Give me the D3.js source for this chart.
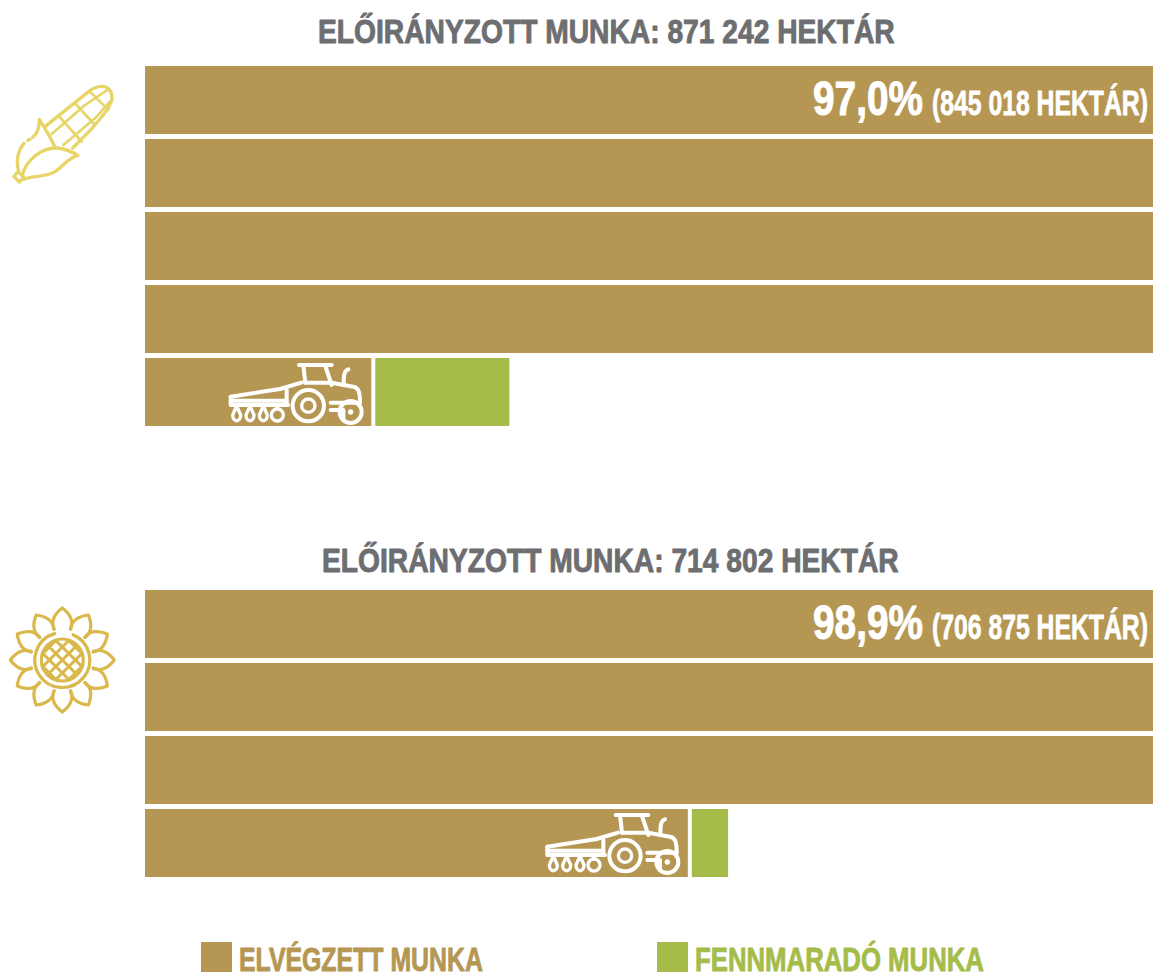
<!DOCTYPE html>
<html><head><meta charset="utf-8">
<script src="https://cdn.jsdelivr.net/npm/d3@7/dist/d3.min.js"></script>
<style>html,body{margin:0;padding:0;background:#fff;overflow:hidden}svg{display:block}
text{font-family:"Liberation Sans Narrow","Liberation Sans",sans-serif;font-weight:700}</style>
</head><body><svg id="c" width="1153" height="972"></svg>
<script>
// Data: hectares per row (each full row = 200 000 ha)
const cornDone = [200000, 200000, 200000, 200000, 44900];
const cornLeft = [26600];
const sunDone = [200000, 200000, 200000, 107700];
const sunLeft = [7200];
const titles = ["ELŐIRÁNYZOTT MUNKA: 871 242 HEKTÁR", "ELŐIRÁNYZOTT MUNKA: 714 802 HEKTÁR"];
const percents = ["97,0%", "98,9%"];
const hectares = ["(845 018 HEKTÁR)", "(706 875 HEKTÁR)"];
const legendLabels = ["ELVÉGZETT MUNKA", "FENNMARADÓ MUNKA"];

const BROWN = "#b59753", GREEN = "#a5bc4a", GREY = "#6d6e71";
const svg = d3.select("#c");
const x = d3.scaleLinear().domain([0, 200000]).range([145, 1153]);
const GAP = 4;

// Text is fitted to its width with a horizontal scale, as the condensed original
function label(t, xa, y, w, size, fill, heft) {
  const el = svg.append("text").attr("font-size", size).attr("fill", fill)
    .attr("stroke", fill).attr("stroke-width", heft).attr("stroke-linejoin", "round").text(t);
  const natural = el.node().getComputedTextLength();
  el.attr("transform", `translate(${xa},${y}) scale(${w / natural},1)`);
}

function tractor(tx, ty) {
  const g = svg.append("g").attr("transform", `translate(${tx},${ty}) scale(${1/3})`)
    .attr("fill", "none").attr("stroke", "#fff").attr("stroke-width", 12)
    .attr("stroke-linecap", "round").attr("stroke-linejoin", "round");
  [
    "M477,75H575", "M490,75L496,128", "M555,75L575,135",
    "M625,88C612,92 611,105 611,136",
    "M496,128H575L640,140C655,142 660,155 660,188",
    "M572,188H660", "M572,210H610V240",
    "M272,170L420,147L484,128", "M272,170V195H445", "M272,182H440",
    "M440,150V195"
  ].forEach(d => g.append("path").attr("d", d));
  g.append("circle").attr("cx", 505).attr("cy", 197).attr("r", 47);
  g.append("circle").attr("cx", 505).attr("cy", 197).attr("r", 20).attr("stroke-width", 10);
  g.append("circle").attr("cx", 632).attr("cy", 216).attr("r", 33);
  g.append("circle").attr("cx", 632).attr("cy", 216).attr("r", 8).attr("fill", "#fff").attr("stroke", "none");
  [290, 330, 370].forEach(c => g.append("path").attr("stroke-width", 10)
    .attr("d", `M${c},198L${c-12},225C${c-12},248 ${c+12},248 ${c+12},225Z`));
  g.append("circle").attr("cx", 412).attr("cy", 225).attr("r", 18).attr("stroke-width", 10);
  g.append("path").attr("d", "M412,198V205");
}

function panel(i, done, left, top, tractorPos, titleX, titleW, titleY) {
  const n = done.length;
  const y = d3.scaleBand().domain(d3.range(n)).range([top, top + 73 * n - 5]).paddingInner(5 / 73);
  svg.append("g").selectAll("rect").data(done).join("rect")
    .attr("x", x(0)).attr("y", (d, k) => y(k))
    .attr("width", d => x(d) - x(0)).attr("height", y.bandwidth()).attr("fill", BROWN);
  const endX = x(done[n - 1]) + GAP;
  svg.append("g").selectAll("rect").data(left).join("rect")
    .attr("x", endX).attr("y", y(n - 1))
    .attr("width", d => x(d) - x(0)).attr("height", y.bandwidth()).attr("fill", GREEN);
  label(titles[i], titleX, titleY, titleW, 33, GREY, 0.9);
  label(percents[i], 813, top + 49, 110, 48, "#fff", 1);
  label(hectares[i], 932, top + 49, 216, 36, "#fff", 0.8);
  tractor(tractorPos[0], tractorPos[1]);
}

panel(0, cornDone, cornLeft, 66, [140, 340], 318, 577, 43);
panel(1, sunDone, sunLeft, 590, [456.67, 790], 322, 577, 572);

// Corn icon
(function () {
  const g = svg.append("g").attr("transform", "translate(0,60) scale(0.3333)")
    .attr("fill", "none").attr("stroke", "#e7d567").attr("stroke-width", 10)
    .attr("stroke-linecap", "round").attr("stroke-linejoin", "round");
  g.append("path").attr("d", "M135,200L262,98C292,72 332,70 336,110C338,135 305,172 270,212L218,264");
  [
    "M155,222L255,135L325,88", "M190,255L285,175L330,125",
    "M180,172L245,245", "M225,130L285,195", "M270,95L325,150"
  ].forEach(d => g.append("path").attr("d", d).attr("stroke-width", 8));
  g.append("path").attr("d", "M66,348C78,300 125,262 172,264C195,266 215,275 234,286C205,292 192,318 165,335C135,353 100,345 72,358");
  g.append("path").attr("d", "M56,333C46,300 56,268 72,250");
  g.append("path").attr("d", "M98,232C112,222 118,205 118,178C132,200 152,232 165,262");
  g.append("path").attr("d", "M84,241L90,238");
  g.append("path").attr("d", "M54,335L42,350L58,366L72,352Z");
})();

// Sunflower icon
(function () {
  const cx = 62.3, cy = 660;
  const g = svg.append("g").attr("transform", `translate(${cx},${cy})`)
    .attr("fill", "none").attr("stroke", "#d9b94e").attr("stroke-width", 3.2)
    .attr("stroke-linecap", "round").attr("stroke-linejoin", "round");
  d3.range(12).forEach(k => g.append("path").attr("transform", `rotate(${k * 30})`)
    .attr("d", "M-8,-31C-12,-38 -8,-46 0,-52C8,-46 12,-38 8,-31"));
  g.append("path").attr("d", d3.arc()({ innerRadius: 27.5, outerRadius: 27.5, startAngle: 0.4, endAngle: 6.0 }));
  g.append("circle").attr("r", 21);
  const clip = svg.append("clipPath").attr("id", "disc");
  clip.append("circle").attr("cx", 0).attr("cy", 0).attr("r", 21);
  const lat = g.append("g").attr("clip-path", "url(#disc)").attr("stroke-width", 3);
  d3.range(-3, 4).forEach(k => {
    const o = k * 13;
    lat.append("line").attr("x1", o - 30).attr("y1", -30).attr("x2", o + 30).attr("y2", 30);
    lat.append("line").attr("x1", o + 30).attr("y1", -30).attr("x2", o - 30).attr("y2", 30);
  });
})();

// Legend
const legX = d3.scaleOrdinal().domain(legendLabels).range([201, 657]);
const legW = d3.scaleOrdinal().domain(legendLabels).range([244, 289]);
const legC = d3.scaleOrdinal().domain(legendLabels).range([BROWN, GREEN]);
legendLabels.forEach(l => {
  svg.append("rect").attr("x", legX(l)).attr("y", 942).attr("width", 31).attr("height", 30).attr("fill", legC(l));
  label(l, legX(l) + 38, 971, legW(l), 34, legC(l), 0.9);
});
</script></body></html>
